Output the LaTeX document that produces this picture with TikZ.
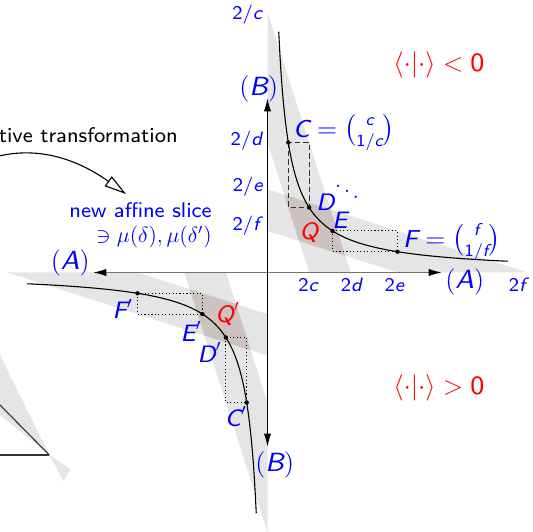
\documentclass[tikz,border=0pt]{standalone}
\usepackage{amsmath}
\usepackage{fontspec}
\setsansfont{lmsans8-regular.otf}[ItalicFont=lmsans8-oblique.otf]
\usetikzlibrary{arrows.meta}
\definecolor{qcol}{RGB}{204,194,192}
\newcommand\sv[1]{\text{\sffamily\itshape #1}}
\newcommand\sr[1]{\text{\sffamily #1}}
\begin{document}
\begin{tikzpicture}[x=0.0192308cm,y=-0.0192308cm,
  strip/.style={fill=black!10},
  qfill/.style={fill=qcol},
  frag/.style={draw=black!80,line width=0.6pt},
  hyp/.style={line width=0.6pt},
  dashrect/.style={draw=black!80,line width=0.5pt,dash pattern=on 3pt off 1.6pt},
  dotrect/.style={draw=black,line width=0.5pt,dash pattern=on 0.6pt off 1.3pt},
  haxis/.style={draw=black!55,line width=0.8pt,-{Latex[length=7.3pt,width=4pt,color=black]}},
  vaxis/.style={draw=black,line width=0.8pt,-{Latex[length=7.3pt,width=4pt]}},
  dotpt/.style={fill=black},
  lbl/.style={text=blue,inner sep=0pt,font=\fontsize{13}{15}\selectfont},
  lblc/.style={text=blue,inner sep=0pt,font=\fontsize{13.4}{15}\selectfont},
  axlbl/.style={text=blue,inner sep=0pt,font=\fontsize{14.4}{17}\selectfont},
  tick/.style={text=blue,inner sep=0pt,font=\fontsize{10.6}{12}\selectfont\sffamily},
  sign/.style={text=red,inner sep=0pt,font=\fontsize{14.4}{17}\selectfont},
  qlbl/.style={text=red,inner sep=0pt,font=\fontsize{13}{15}\selectfont},
  txt/.style={inner sep=0pt,font=\fontsize{11.6}{14}\selectfont\sffamily},
  transarrow/.style={draw=black,line width=0.6pt,-{Triangle[open,length=12pt,width=6.6pt]}}
]
\useasboundingbox (0,0) rectangle (533,532);

% ---- strips ----
\fill[strip] (267.5,12.5) -- (350.7,272.5) -- (309.1,272.5) -- (267.5,142.5) -- cycle;
\fill[strip] (527.5,272.5) -- (267.5,189.3) -- (267.5,230.9) -- (397.5,272.5) -- cycle;
\fill[strip] (267.5,532.5) -- (184.3,272.5) -- (225.9,272.5) -- (267.5,402.5) -- cycle;
\fill[strip] (7.5,272.5) -- (267.5,355.7) -- (267.5,314.1) -- (137.5,272.5) -- cycle;
\begin{scope}
  \clip (267.5,12.5) -- (350.7,272.5) -- (309.1,272.5) -- (267.5,142.5) -- cycle;
  \fill[qfill] (527.5,272.5) -- (267.5,189.3) -- (267.5,230.9) -- (397.5,272.5) -- cycle;
\end{scope}
\begin{scope}
  \clip (267.5,532.5) -- (184.3,272.5) -- (225.9,272.5) -- (267.5,402.5) -- cycle;
  \fill[qfill] (7.5,272.5) -- (267.5,355.7) -- (267.5,314.1) -- (137.5,272.5) -- cycle;
\end{scope}

% ---- fragment bottom left ----
\fill[strip] (0,355) -- (49.3,455) -- (0,415) -- cycle;
\fill[strip] (49.3,455) -- (70.5,469) -- (63.5,481) -- cycle;
\draw[frag] (0,455) -- (49.3,455);
\draw[frag] (0,405) -- (49.3,455);

% ---- points ----
\coordinate (C) at (288.3,142.5);
\coordinate (D) at (309.1,207.5);
\coordinate (E) at (332.5,230.9);
\coordinate (F) at (397.5,251.7);
\coordinate (Cp) at (246.7,402.5);
\coordinate (Dp) at (225.9,337.5);
\coordinate (Ep) at (202.5,314.1);
\coordinate (Fp) at (137.5,293.3);

% ---- rectangles ----
\draw[dashrect] (C) rectangle (D);
\draw[dotrect] (E) rectangle (F);
\draw[dotrect] (Fp) rectangle (Ep);
\draw[dotrect] (Dp) rectangle (Cp);

% ---- hyperbolas ----
\draw[hyp] plot[domain=0.216:4.62,samples=150,smooth] ({267.5+52*\x},{272.5-52/\x});
\draw[hyp] plot[domain=0.216:4.62,samples=150,smooth] ({267.5-52*\x},{272.5+52/\x});

% ---- axes ----
\coordinate (O) at (267.5,272.5);
\coordinate (Ar) at (442,272.5);
\coordinate (Al) at (93,272.5);
\coordinate (Bt) at (267.5,98);
\coordinate (Bb) at (267.5,447);
\draw[haxis] (O) -- (Ar);
\draw[haxis] (O) -- (Al);
\draw[vaxis] (O) -- (Bt);
\draw[vaxis] (O) -- (Bb);

% ---- dots ----
\foreach \p in {C,D,E,F,Cp,Dp,Ep,Fp} \fill[dotpt] (\p) circle (1.2pt);

% ---- axis labels ----
\node[axlbl,anchor=east] (lAl) at (90,263) {$(\sv{A})$};
\node[axlbl,anchor=west] (lAr) at (445,282) {$(\sv{A})$};
\node[axlbl,anchor=west] (lBt) at (239,88.5) {$(\sv{B})$};
\node[axlbl,anchor=west] (lBb) at (255,465) {$(\sv{B})$};

% ---- tick labels ----
\node[tick,anchor=east] (t1) at (263.5,15) {2/\textit{c}};
\node[tick,anchor=east] (t2) at (263.5,141) {2/\textit{d}};
\node[tick,anchor=east] (t3) at (263.5,187) {2/\textit{e}};
\node[tick,anchor=east] (t4) at (263.5,226) {2/\textit{f}};
\node[tick,anchor=base] (s1) at (308.5,291.5) {2\textit{c}};
\node[tick,anchor=base] (s2) at (352,291.5) {2\textit{d}};
\node[tick,anchor=base] (s3) at (394.7,291.5) {2\textit{e}};
\node[tick,anchor=base] (s4) at (519,291.5) {2\textit{f}};

% ---- point labels ----
\node[lblc,anchor=west] (lC) at (292.7,132.5) {$\sv{C}=\binom{\sv{c}}{\sr{1/}\sv{c}}$};
\node[lbl,anchor=west] (lD) at (316,202) {$\sv{D}$};
\node[lbl] (ldots) at (347,186) {$\ddots$};
\node[lbl,anchor=west] (lE) at (332,220) {$\sv{E}$};
\node[qlbl] (lQ) at (309,233) {$\sv{Q}$};
\node[lblc,anchor=west] (lF) at (402.7,242) {$\sv{F}=\binom{\sv{f}}{\sr{1/}\sv{f}}$};
\node[lbl,anchor=east] (lFp) at (133,309) {$\sv{F}'$};
\node[lbl,anchor=east] (lEp) at (201.7,331.7) {$\sv{E}'$};
\node[lbl,anchor=east] (lDp) at (221.7,352.3) {$\sv{D}'$};
\node[qlbl] (lQp) at (227.5,314) {$\sv{Q}'$};
\node[lbl,anchor=east] (lCp) at (247,416.8) {$\sv{C}'$};

% ---- signs ----
\node[sign,anchor=west] (neg) at (393,65) {$\langle\cdot|\cdot\rangle<\sr{0}$};
\node[sign,anchor=west] (pos) at (393,388) {$\langle\cdot|\cdot\rangle>\sr{0}$};

% ---- transformation text and arrow ----
\node[txt,anchor=base east] (trans) at (178,142.5) {tive transformation};
\node[inner sep=0pt,text=blue,align=right,anchor=north east,
      font=\fontsize{11.6}{13.6}\selectfont\sffamily] (slice) at (212,202.6)
      {new affine slice\hspace{2.6pt}\\$\ni\mu(\delta),\mu(\delta')$};
\coordinate (arrS) at (-5,157);
\coordinate (arrE) at (126,194);
\draw[transarrow] (arrS) .. controls (40,145) and (80,161) .. (arrE);
\end{tikzpicture}
\end{document}
